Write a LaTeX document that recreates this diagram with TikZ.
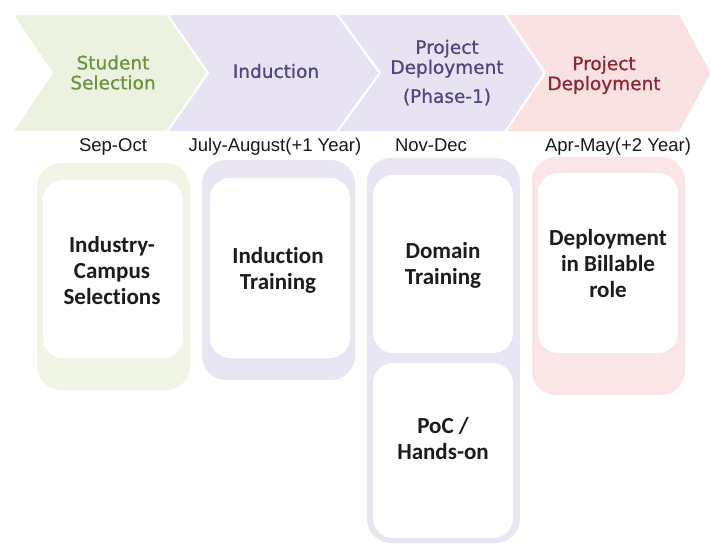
\documentclass[tikz,border=0pt]{standalone}
\usepackage{fontspec}
\setmainfont{Liberation Sans}
\newfontfamily\headfont[FakeBold=0.9]{DejaVu Sans}
\newfontfamily\boxfont[Ligatures=NoCommon]{Carlito}

\definecolor{greenfill}{RGB}{236,242,224}
\definecolor{purplefill}{RGB}{231,227,242}
\definecolor{pinkfill}{RGB}{250,226,226}
\definecolor{greentext}{RGB}{112,145,62}
\definecolor{purpletext}{RGB}{82,70,128}
\definecolor{redtext}{RGB}{145,36,52}
\definecolor{greenbox}{RGB}{241,245,230}
\definecolor{purplebox}{RGB}{233,229,243}
\definecolor{pinkbox}{RGB}{250,230,230}
\definecolor{boxtext}{RGB}{28,28,28}

\tikzset{
  chevron/.style={draw=white, line width=2pt, line join=miter},
  stagetext/.style={font=\headfont\fontsize{18.5}{20}\selectfont, align=center, inner sep=0pt},
  datetext/.style={font=\fontsize{18.5}{20}\selectfont, text=black!90, inner sep=0pt, anchor=base},
  outerbox/.style={rounded corners=24pt},
  innerbox/.style={fill=white, rounded corners=20pt},
  boxlabel/.style={font=\boxfont\bfseries\fontsize{23}{26}\selectfont, text=boxtext, align=center, inner sep=0pt}
}

\begin{document}
\begin{tikzpicture}[x=1pt,y=-1pt]
\useasboundingbox (0,0) rectangle (710,544);
\fill[white] (0,0) rectangle (710,544);

% process chevrons
\filldraw[chevron, fill=greenfill]  (12,14) -- (167,14) -- (208,73) -- (167,132) -- (12,132) -- (52,73) -- cycle;
\filldraw[chevron, fill=purplefill] (167,14) -- (337,14) -- (380,73) -- (337,132) -- (167,132) -- (208,73) -- cycle;
\filldraw[chevron, fill=purplefill] (337,14) -- (505,14) -- (545,73) -- (505,132) -- (337,132) -- (380,73) -- cycle;
\filldraw[chevron, fill=pinkfill]   (505,14) -- (680,14) -- (712,73) -- (680,132) -- (505,132) -- (545,73) -- cycle;

\node[stagetext, text=greentext]  (s1) at (113,72.5) {Student\\Selection};
\node[stagetext, text=purpletext] (s2) at (276,71) {Induction};
\node[stagetext, text=purpletext] (s3) at (447,72.5) {Project\\Deployment\\[9pt](Phase-1)};
\node[stagetext, text=redtext]    (s4) at (604,75) {Project\\Deployment};

% time frames
\node[datetext] (d1) at (113,151.5) {Sep-Oct};
\node[datetext] (d2) at (275,151.5) {July-August(+1 Year)};
\node[datetext] (d3) at (431,151.5) {Nov-Dec};
\node[datetext] (d4) at (618,151.5) {Apr-May(+2 Year)};

% activity boxes
\fill[outerbox, fill=greenbox]  (37,163) rectangle (190,390);
\fill[innerbox] (43,180) rectangle (183,358);
\fill[outerbox, fill=purplebox] (202,160) rectangle (355,380);
\fill[innerbox] (210,178) rectangle (350,358);
\fill[outerbox, fill=purplebox] (367,158) rectangle (520,543);
\fill[innerbox] (373,175) rectangle (513,353);
\fill[innerbox] (373,363) rectangle (513,538);
\fill[outerbox, fill=pinkbox]   (532,157) rectangle (685,395);
\fill[innerbox] (538,173) rectangle (678,353);

\node[boxlabel] (b1) at (112,271) {Industry-\\Campus\\Selections};
\node[boxlabel] (b2) at (278,270) {Induction\\Training};
\node[boxlabel] (b3) at (443,265) {Domain\\Training};
\node[boxlabel] (b4) at (443,439) {PoC /\\Hands-on};
\node[boxlabel] (b5) at (608,264) {Deployment\\in Billable\\role};
\end{tikzpicture}
\end{document}
